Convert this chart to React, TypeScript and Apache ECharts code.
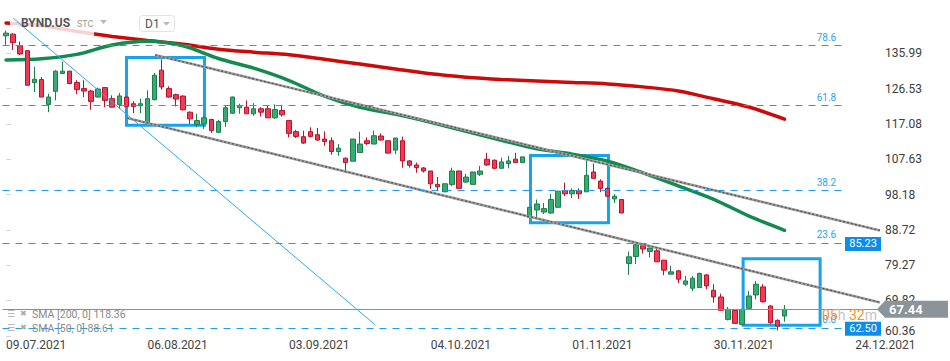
import React, { useEffect, useRef } from 'react';
import * as echarts from 'echarts';

const symbolName = 'BYND.US';
const symbolType = 'STC';
const timeframe = 'D1';

const tickLabels = ['09.07.2021', '06.08.2021', '03.09.2021', '04.10.2021', '01.11.2021', '30.11.2021', '24.12.2021'];
const tickEvery = 20;
const slotCount = 124;
const priceTicks = [60.36, 69.82, 79.27, 88.72, 98.18, 107.63, 117.08, 126.53, 135.99];
const yMin = 60.3;
const yMax = 150.26;

// [open, close, low, high]
const candles: number[][] = [
  [140.66, 141.39, 138.23, 142.09],
  [141.12, 138.85, 136.88, 141.39],
  [138.04, 135.8, 135.53, 139.12],
  [136.69, 127.43, 127.43, 136.88],
  [128.16, 129.05, 125.62, 132.37],
  [128.97, 124.27, 124.27, 129.67],
  [122.3, 124.27, 120.22, 125.19],
  [125.81, 131.21, 123.38, 131.48],
  [130.59, 131.21, 130.4, 133.72],
  [131.21, 127.89, 127.7, 131.29],
  [128.16, 126.27, 125.0, 128.78],
  [126.54, 125.89, 124.27, 128.78],
  [125.89, 123.11, 120.87, 126.27],
  [124.27, 126.43, 124.11, 126.81],
  [126.81, 123.38, 121.57, 126.97],
  [123.84, 121.57, 121.57, 124.73],
  [122.3, 124.57, 121.14, 125.35],
  [124.27, 121.76, 121.57, 124.46],
  [122.49, 121.76, 119.95, 123.19],
  [121.95, 122.49, 119.95, 123.84],
  [117.36, 123.84, 117.36, 126.08],
  [123.57, 130.13, 123.38, 130.75],
  [131.48, 126.97, 126.27, 134.37],
  [126.54, 124.27, 124.11, 127.16],
  [124.92, 123.73, 121.76, 125.19],
  [124.54, 120.87, 120.68, 124.73],
  [120.22, 118.44, 117.09, 120.41],
  [116.9, 117.98, 116.17, 119.79],
  [117.09, 118.71, 115.74, 119.06],
  [118.25, 115.28, 114.66, 118.44],
  [114.82, 117.71, 114.66, 118.17],
  [117.71, 121.41, 116.3, 122.03],
  [119.95, 124.27, 119.8, 124.4],
  [121.41, 122.03, 119.79, 122.49],
  [121.57, 119.79, 119.79, 123.38],
  [119.79, 121.14, 119.25, 122.65],
  [121.14, 120.22, 119.06, 121.57],
  [121.14, 118.71, 118.71, 122.03],
  [118.71, 120.95, 118.44, 122.3],
  [120.68, 119.52, 119.06, 122.03],
  [117.98, 114.55, 113.47, 117.98],
  [115.01, 113.74, 113.31, 115.47],
  [113.66, 111.96, 111.69, 115.28],
  [115.01, 113.74, 113.47, 116.17],
  [114.2, 112.77, 112.58, 116.01],
  [113.04, 112.39, 111.23, 115.09],
  [112.58, 109.69, 108.8, 113.47],
  [109.69, 110.59, 108.53, 111.69],
  [107.91, 106.72, 104.03, 108.07],
  [107.09, 113.04, 107.09, 113.04],
  [109.42, 111.69, 109.42, 115.01],
  [112.58, 111.85, 111.42, 113.47],
  [111.69, 113.93, 111.69, 115.28],
  [113.85, 112.77, 112.58, 114.55],
  [112.58, 109.26, 109.26, 112.58],
  [110.07, 113.31, 108.99, 113.31],
  [112.58, 107.18, 105.38, 113.66],
  [107.18, 106.02, 105.38, 107.37],
  [106.1, 105.38, 104.03, 106.72],
  [105.29, 104.48, 104.03, 105.56],
  [104.48, 101.06, 99.7, 104.48],
  [100.89, 100.25, 99.08, 102.86],
  [98.9, 101.06, 98.9, 101.06],
  [100.89, 104.48, 100.43, 105.38],
  [104.48, 99.81, 99.81, 104.48],
  [101.51, 102.86, 101.33, 103.71],
  [100.89, 104.21, 100.89, 104.21],
  [103.59, 104.48, 103.13, 105.83],
  [107.64, 106.1, 105.83, 109.34],
  [107.37, 105.2, 104.94, 107.55],
  [105.2, 106.9, 105.2, 108.07],
  [106.45, 107.18, 105.2, 108.53],
  [107.64, 106.72, 106.72, 109.34],
  [106.72, 108.26, 106.72, 108.26],
  [92.04, 94.74, 92.04, 94.74],
  [94.03, 95.65, 92.04, 96.84],
  [93.49, 94.41, 92.96, 95.92],
  [93.22, 96.84, 92.96, 98.36],
  [94.76, 99.08, 94.58, 99.08],
  [99.27, 98.36, 97.73, 101.33],
  [98.36, 99.27, 97.2, 99.81],
  [99.27, 98.36, 96.99, 99.81],
  [98.9, 103.32, 98.9, 107.37],
  [104.21, 102.5, 102.5, 106.45],
  [101.78, 99.81, 98.81, 102.24],
  [99.81, 97.73, 97.5, 100.2],
  [97.01, 97.73, 95.92, 98.27],
  [96.84, 93.22, 93.22, 97.0],
  [79.7, 81.5, 76.66, 82.92],
  [81.58, 84.73, 79.54, 85.08],
  [84.46, 83.57, 82.39, 85.08],
  [82.92, 83.84, 81.31, 84.0],
  [83.11, 80.16, 80.16, 84.0],
  [80.61, 77.93, 76.58, 80.61],
  [76.85, 77.47, 76.85, 79.08],
  [77.74, 75.5, 74.43, 77.92],
  [74.16, 75.04, 73.63, 76.39],
  [73.09, 75.77, 72.36, 76.39],
  [73.25, 77.02, 73.25, 77.28],
  [76.66, 73.7, 72.82, 76.85],
  [72.55, 70.75, 69.22, 74.16],
  [70.75, 67.17, 67.17, 71.63],
  [64.75, 67.44, 64.48, 68.06],
  [67.17, 63.68, 63.68, 67.44],
  [63.41, 67.44, 63.41, 67.44],
  [67.71, 71.02, 67.71, 72.36],
  [71.29, 74.16, 70.13, 75.04],
  [73.45, 69.49, 69.22, 74.16],
  [68.33, 63.84, 63.57, 68.6],
  [64.48, 62.95, 61.8, 64.75],
  [65.64, 67.44, 64.11, 68.6],
];

const smaIndex = [0, 5, 10, 15, 20, 25, 30, 35, 40, 45, 50, 55, 60, 65, 70, 75, 80, 85, 90, 95, 100, 105, 110];
const sma200 = [144.1, 143.4, 141.8, 140.5, 139.4, 138.4, 137.1, 136.3, 135.6, 134.4, 133.1, 131.8, 130.5, 129.6, 129.0, 128.6, 128.2, 127.8, 127.0, 125.9, 123.8, 121.6, 118.36];
const sma50 = [134.2, 134.5, 135.7, 138.2, 139.2, 138.0, 134.6, 132.0, 128.7, 124.5, 121.5, 119.7, 117.5, 115.1, 112.7, 110.4, 109.0, 107.1, 104.0, 100.5, 96.9, 92.4, 88.61];

const channelUpper = [[21.05, 135.53], [123.5, 88.57]];
const channelLower = [[17.09, 118.67], [123.5, 69.28]];
const blueTrend = [[1.03, 145.36], [52.19, 63.25]];

const fibLabels = ['0.0', '23.6', '38.2', '61.8', '78.6'];
const fibPrices = [62.5, 85.23, 99.29, 122.02, 138.2];
const fibBoxed = [true, true, false, false, false];
const fibEndIndex = 118.3;
const fibBoxIndex = 121.1;

// [startIndex, endIndex, topPrice, bottomPrice]
const boxes = [
  [17.02, 28.04, 134.87, 116.74],
  [74.11, 85.13, 108.63, 90.61],
  [104.16, 115.04, 80.97, 63.19],
];

const lastPrice = 67.44;
const countdown = ['05', '32'];

export default function App() {
  const ref = useRef<HTMLDivElement>(null);
  useEffect(() => {
    const chart = echarts.init(ref.current!, null, { renderer: 'svg' });
    const categories = Array.from({ length: slotCount }, (_, i) => String(i));
    const sma200Last = sma200[sma200.length - 1];
    const sma50Last = sma50[sma50.length - 1];
    const font = 'Roboto';

    const buildGraphic = (lastY: number) => [
      { type: 'rect', z: 2, silent: true, shape: { x: 10, y: 8, width: 84, height: 30 }, style: { fill: 'rgba(255,255,255,0.82)' } },
      { type: 'text', z: 10, x: 21, y: 23, style: { text: symbolName, fill: '#555', font: `bold 12px ${font}`, verticalAlign: 'middle' } },
      { type: 'text', z: 10, x: 77, y: 23.5, style: { text: symbolType, fill: '#9a9a9a', font: `9px ${font}`, verticalAlign: 'middle' } },
      { type: 'polygon', z: 10, shape: { points: [[100, 20], [107, 20], [103.5, 24]] }, style: { fill: '#b8b8b8' } },
      { type: 'rect', z: 10, shape: { x: 139.5, y: 15.5, width: 35, height: 16, r: 3 }, style: { fill: '#fff', stroke: '#e2e2e2', lineWidth: 1 } },
      { type: 'text', z: 11, x: 145, y: 23.5, style: { text: timeframe, fill: '#555', font: `12px ${font}`, verticalAlign: 'middle' } },
      { type: 'polygon', z: 11, shape: { points: [[163, 22], [170, 22], [166.5, 25.5]] }, style: { fill: '#b8b8b8' } },
      {
        type: 'text', z: 12, x: 822, y: 314.5,
        style: {
          text: `{o|${countdown[0]}}{g|h} {o|${countdown[1]}}{g|m}`,
          verticalAlign: 'middle',
          font: `14px ${font}`,
          rich: {
            o: { fill: '#f7941d', font: `14px ${font}` },
            g: { fill: '#c4c4c4', font: `14px ${font}` },
          },
        },
      },
      {
        type: 'polygon', z: 20,
        shape: { points: [[877, lastY], [885, lastY - 8.5], [948, lastY - 8.5], [948, lastY + 8.5], [885, lastY + 8.5]] },
        style: { fill: '#8a9499' },
      },
      { type: 'text', z: 21, x: 889, y: lastY + 0.5, style: { text: lastPrice.toFixed(2), fill: '#fff', font: `bold 13px ${font}`, verticalAlign: 'middle' } },
      { type: 'text', z: 10, x: 7, y: 313.5, style: { text: '☰', fill: '#aaa', font: '9px "DejaVu Sans"', verticalAlign: 'middle' } },
      { type: 'text', z: 10, x: 20, y: 313.5, style: { text: '✖', fill: '#aaa', font: '8px "DejaVu Sans"', verticalAlign: 'middle' } },
      { type: 'text', z: 10, x: 32, y: 314.5, style: { text: `SMA [200, 0] ${sma200Last.toFixed(2)}`, fill: '#8a8a8a', font: `10.5px ${font}`, verticalAlign: 'middle' } },
      { type: 'text', z: 10, x: 7, y: 327.5, style: { text: '☰', fill: '#aaa', font: '9px "DejaVu Sans"', verticalAlign: 'middle' } },
      { type: 'text', z: 10, x: 20, y: 327.5, style: { text: '✖', fill: '#aaa', font: '8px "DejaVu Sans"', verticalAlign: 'middle' } },
      { type: 'text', z: 10, x: 32, y: 328.5, style: { text: `SMA [50, 0] ${sma50Last.toFixed(2)}`, fill: '#8a8a8a', font: `10.5px ${font}`, verticalAlign: 'middle' } },
    ];

    const option: any = {
      animation: false,
      textStyle: { fontFamily: font },
      grid: { left: 2.5, right: 70, top: 0, height: 336 },
      xAxis: [
        {
          type: 'category',
          data: categories,
          boundaryGap: true,
          axisLine: { show: false },
          axisTick: { show: false },
          splitLine: { show: false },
          axisLabel: {
            interval: tickEvery - 1,
            align: 'left',
            margin: 3,
            color: '#444',
            fontSize: 12,
            fontFamily: font,
            formatter: (_v: string, idx: number) => tickLabels[idx / tickEvery] ?? '',
          },
        },
        { type: 'value', show: false, min: -0.5, max: slotCount - 0.5 },
      ],
      yAxis: {
        type: 'value',
        position: 'right',
        min: yMin,
        max: yMax,
        offset: 2,
        splitLine: { show: false },
        axisLine: { show: false },
        axisTick: { show: true, length: 5, lineStyle: { color: '#d5d5d5' }, customValues: priceTicks },
        axisLabel: {
          customValues: priceTicks,
          margin: 3,
          color: '#3d3d3d',
          fontSize: 12,
          fontFamily: font,
          formatter: (v: number) =>
            Math.abs(v - priceTicks[0]) < 1e-6 ? `{low|${v.toFixed(2)}}` : v.toFixed(2),
          rich: { low: { padding: [0, 0, 9, 0], fontSize: 12, color: '#3d3d3d', fontFamily: font } },
        },
      },
      series: [
        {
          type: 'line', xAxisIndex: 1, data: smaIndex.map((x, i) => [x, sma200[i]]),
          smooth: 0.3, showSymbol: false, silent: true, z: 1,
          lineStyle: { color: '#cc0a0a', width: 3.5, cap: 'round' },
        },
        {
          type: 'line', xAxisIndex: 1, data: smaIndex.map((x, i) => [x, sma50[i]]),
          smooth: 0.3, showSymbol: false, silent: true, z: 1,
          lineStyle: { color: '#138a4e', width: 3.5, cap: 'round' },
        },
        {
          type: 'line', xAxisIndex: 1, data: [], silent: true, z: 2,
          markLine: {
            silent: true, symbol: ['none', 'none'], animation: false,
            lineStyle: { color: '#1f9de8', type: [7, 6], width: 1 },
            label: { show: true, position: 'insideEndTop', color: '#2aa4ea', fontSize: 10, distance: 3, padding: [0, 4, 0, 0], fontFamily: font },
            data: fibPrices.map((p, i) => [
              { coord: [-0.5, p], label: { formatter: fibLabels[i] } },
              { coord: [fibEndIndex, p] },
            ]),
          },
        },
        {
          type: 'line', xAxisIndex: 1, data: [], silent: true, z: 2,
          markLine: {
            silent: true, symbol: ['none', 'none'], animation: false,
            lineStyle: { color: '#8a8f92', type: 'solid', width: 1 },
            label: { show: false },
            data: [[{ coord: [-0.5, lastPrice] }, { coord: [slotCount - 0.5, lastPrice] }]],
          },
        },
        {
          type: 'candlestick', xAxisIndex: 0, data: candles, barWidth: 5, silent: true, z: 3,
          itemStyle: { color: '#35ad72', color0: '#ef3b53', borderColor: '#1e7d4c', borderColor0: '#b9132b', borderWidth: 1 },
        },
        ...[channelUpper, channelLower].flatMap((d) => [
          { type: 'line', xAxisIndex: 1, data: d, showSymbol: false, silent: true, z: 4, lineStyle: { color: '#a0a0a0', width: 2.6 } },
          { type: 'line', xAxisIndex: 1, data: d, showSymbol: false, silent: true, z: 4, lineStyle: { color: '#555', width: 1.3, type: [2, 2] } },
        ]),
        {
          type: 'line', xAxisIndex: 1, data: blueTrend, showSymbol: false, silent: true, z: 4,
          lineStyle: { color: '#2fa8ec', width: 1 },
        },
        {
          type: 'line', xAxisIndex: 1, data: [], silent: true, z: 5,
          markArea: {
            silent: true,
            itemStyle: { color: 'rgba(0,0,0,0)', borderColor: '#16a3ec', borderWidth: 3 },
            data: boxes.map((b) => [{ coord: [b[0], b[2]] }, { coord: [b[1], b[3]] }]),
          },
        },
        {
          type: 'line', xAxisIndex: 1, data: [], silent: true, z: 6,
          markPoint: {
            silent: true, animation: false,
            data: fibPrices
              .map((p, i) => ({ p, i }))
              .filter((o) => fibBoxed[o.i])
              .map((o) => ({
                coord: [fibBoxIndex, o.p],
                symbol: 'rect',
                symbolSize: [36, 14],
                symbolOffset: [0, 1],
                itemStyle: { color: '#0b8de9' },
                label: { show: true, position: 'inside', formatter: o.p.toFixed(2), color: '#fff', fontSize: 11, fontFamily: font },
              })),
          },
        },
      ],
      graphic: buildGraphic(310),
    };
    chart.setOption(option);
    const lastY = chart.convertToPixel({ yAxisIndex: 0 }, lastPrice) as number;
    if (typeof lastY === 'number' && isFinite(lastY)) {
      chart.setOption({ graphic: buildGraphic(lastY) });
    }
    return () => chart.dispose();
  }, []);
  return <div ref={ref} style={{ position: 'fixed', left: 0, top: 0, width: 950, height: 361, background: '#fff' }} />;
}
